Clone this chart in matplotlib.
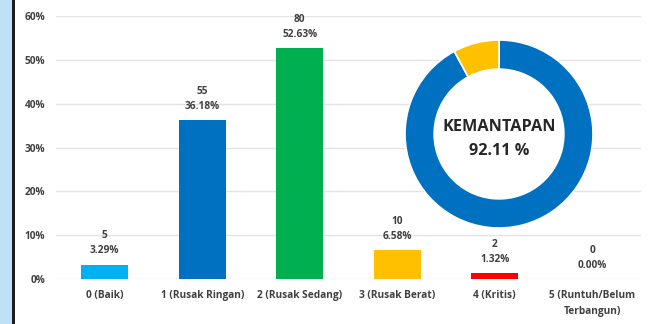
import matplotlib
matplotlib.use("Agg")
import matplotlib.pyplot as plt
from matplotlib.patches import Rectangle, Circle

# Condition categories and counts
categories = ["0 (Baik)", "1 (Rusak Ringan)", "2 (Rusak Sedang)",
              "3 (Rusak Berat)", "4 (Kritis)", "5 (Runtuh/Belum\nTerbangun)"]
counts = [5, 55, 80, 10, 2, 0]
percents = [3.29, 36.18, 52.63, 6.58, 1.32, 0.00]
bar_colors = ["#00B0F0", "#0070C0", "#00B050", "#FFC000", "#FF0000", "#A5A5A5"]

# Stability ring
ring_values = [92.11, 7.89]
ring_colors = ["#0070C0", "#FFC000"]
ring_title = "KEMANTAPAN"
ring_label = "92.11 %"

yticks = [0, 10, 20, 30, 40, 50, 60]

plt.rcParams['font.family'] = ['Open Sans', 'DejaVu Sans']
txt_color = "#404040"
fs = 7.3

W, H = 652, 324
fig = plt.figure(figsize=(W / 100, H / 100), dpi=100, facecolor="white")

# side strip and dark rule on the left edge
fig.patches.append(Rectangle((0, 0), 12 / W, 1, transform=fig.transFigure,
                             facecolor="#BEE1F7", edgecolor="none", zorder=0))
fig.patches.append(Rectangle((12 / W, 0), 3 / W, 1, transform=fig.transFigure,
                             facecolor="#1E1E1E", edgecolor="none", zorder=0))

ax = fig.add_axes([56 / W, 1 - 279 / H, 585 / W, 263 / H])
ax.set_facecolor("none")
x = list(range(len(categories)))
bars = ax.bar(x, percents, width=0.48, color=bar_colors, zorder=3)
ax.set_xlim(-0.5, len(categories) - 0.5)
ax.set_ylim(0, 60)
ax.set_yticks(yticks)
ax.set_yticklabels([f"{t}%" for t in yticks])
ax.set_xticks(x)
ax.set_xticklabels(categories)
ax.grid(axis="y", color="#E3E3E3", linewidth=1.0, zorder=0)
ax.set_axisbelow(True)
for s in ax.spines.values():
    s.set_visible(False)
ax.tick_params(axis="both", length=0, labelsize=fs, labelcolor=txt_color)
ax.tick_params(axis="x", pad=8)
ax.tick_params(axis="y", pad=8)
for lab in ax.get_xticklabels() + ax.get_yticklabels():
    lab.set_fontweight("bold")
    lab.set_linespacing(1.65)

for xi, c, p in zip(x, counts, percents):
    ax.annotate(f"{c}\n{p:.2f}%", (xi, p), xytext=(0, 6), textcoords="offset points",
                ha="center", va="bottom", fontsize=fs, fontweight="bold",
                color=txt_color, linespacing=1.5)

# donut chart
cx, cy, r = 499, 134, 94
dax = fig.add_axes([(cx - r) / W, 1 - (cy + r) / H, 2 * r / W, 2 * r / H])
dax.set_facecolor("none")
dax.add_patch(Circle((0, 0), 0.69, facecolor="white", edgecolor="none", zorder=0))
dax.pie(ring_values, colors=ring_colors, startangle=90, counterclock=False,
        radius=1.0, wedgeprops=dict(width=0.31, edgecolor="white", linewidth=1.2))
dax.set_xlim(-1, 1)
dax.set_ylim(-1, 1)
dax.set_aspect("equal")
dax.axis("off")
dax.text(0, 0.07, ring_title, ha="center", va="center", fontsize=11.7,
         fontweight="bold", color="#262626")
dax.text(0, -0.18, ring_label, ha="center", va="center", fontsize=11.7,
         fontweight="bold", color="#262626")

fig.savefig("out.png", dpi=100, facecolor=fig.get_facecolor())
